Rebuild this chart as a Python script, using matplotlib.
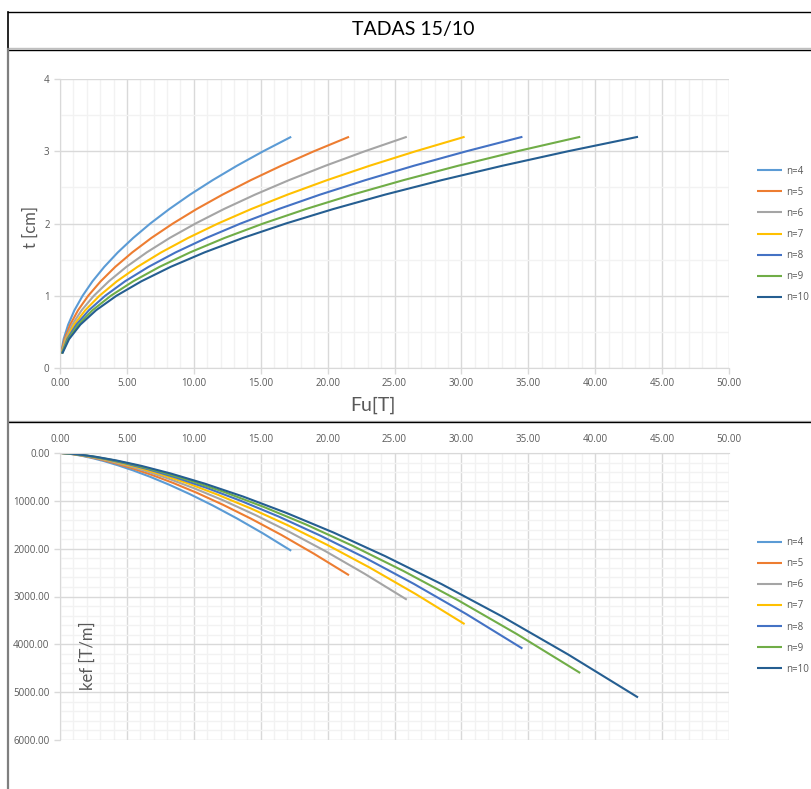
import matplotlib
matplotlib.use("Agg")
import matplotlib.pyplot as plt
from matplotlib.lines import Line2D
from matplotlib.ticker import MultipleLocator, FormatStrFormatter

# espesor de placa [cm]
t_cm = [0.2, 0.4, 0.6, 0.8, 1.0, 1.2, 1.4, 1.6, 1.8, 2.0, 2.2, 2.4, 2.6, 2.8, 3.0, 3.2]

labels = ["n=4", "n=5", "n=6", "n=7", "n=8", "n=9", "n=10"]
colors = ["#5B9BD5", "#ED7D31", "#A5A5A5", "#FFC000", "#4472C4", "#70AD47", "#255E91"]

# Fu [T] por numero de placas
fu_n4 = [0.07, 0.27, 0.61, 1.08, 1.69, 2.43, 3.31, 4.32, 5.47, 6.75, 8.17, 9.72, 11.41, 13.23, 15.19, 17.28]
fu_n5 = [0.08, 0.34, 0.76, 1.35, 2.11, 3.04, 4.13, 5.40, 6.83, 8.44, 10.21, 12.15, 14.26, 16.54, 18.98, 21.60]
fu_n6 = [0.10, 0.41, 0.91, 1.62, 2.53, 3.65, 4.96, 6.48, 8.20, 10.13, 12.25, 14.58, 17.11, 19.85, 22.78, 25.92]
fu_n7 = [0.12, 0.47, 1.06, 1.89, 2.95, 4.25, 5.79, 7.56, 9.57, 11.81, 14.29, 17.01, 19.96, 23.15, 26.58, 30.24]
fu_n8 = [0.14, 0.54, 1.22, 2.16, 3.38, 4.86, 6.62, 8.64, 10.94, 13.50, 16.34, 19.44, 22.82, 26.46, 30.38, 34.56]
fu_n9 = [0.15, 0.61, 1.37, 2.43, 3.80, 5.47, 7.44, 9.72, 12.30, 15.19, 18.38, 21.87, 25.67, 29.77, 34.17, 38.88]
fu_n10 = [0.17, 0.68, 1.52, 2.70, 4.22, 6.08, 8.27, 10.80, 13.67, 16.88, 20.42, 24.30, 28.52, 33.08, 37.97, 43.20]

# kef [T/m]
kef_n4 = [0.5, 4, 13, 32, 62, 108, 171, 256, 364, 499, 664, 862, 1096, 1369, 1684, 2044]
kef_n5 = [0.6, 5, 17, 40, 78, 135, 214, 320, 455, 624, 830, 1078, 1371, 1712, 2106, 2555]
kef_n6 = [0.8, 6, 20, 48, 94, 162, 257, 383, 545, 749, 996, 1294, 1645, 2054, 2527, 3066]
kef_n7 = [0.9, 7, 24, 56, 109, 188, 300, 447, 636, 874, 1162, 1509, 1919, 2396, 2948, 3577]
kef_n8 = [1.0, 8, 27, 64, 125, 215, 342, 511, 727, 998, 1328, 1725, 2193, 2738, 3369, 4088]
kef_n9 = [1.1, 9, 30, 72, 140, 242, 385, 575, 818, 1123, 1494, 1940, 2467, 3081, 3790, 4599]
kef_n10 = [1.2, 10, 34, 80, 156, 269, 428, 639, 909, 1248, 1660, 2156, 2741, 3423, 4211, 5110]

fu_all = [fu_n4, fu_n5, fu_n6, fu_n7, fu_n8, fu_n9, fu_n10]
kef_all = [kef_n4, kef_n5, kef_n6, kef_n7, kef_n8, kef_n9, kef_n10]

plt.rcParams["font.family"] = ["Open Sans", "DejaVu Sans"]
txt = "#595959"
major_c = "#D9D9D9"
minor_c = "#F2F2F2"
lbl_font = ["Lato", "DejaVu Sans"]

W, H = 811, 789
fig = plt.figure(figsize=(W / 100, H / 100), dpi=100)


def px_ax(l, t, r, b):
    return [l / W, 1 - b / H, (r - l) / W, (b - t) / H]


def style(ax):
    ax.set_xlim(0, 50)
    ax.xaxis.set_major_locator(MultipleLocator(5))
    ax.xaxis.set_minor_locator(MultipleLocator(1))
    ax.xaxis.set_major_formatter(FormatStrFormatter("%.2f"))
    ax.grid(which="major", color=major_c, lw=1.0, zorder=0)
    ax.grid(which="minor", color=minor_c, lw=1.0, zorder=0)
    ax.set_axisbelow(True)
    for s in ax.spines.values():
        s.set_visible(False)
    ax.tick_params(which="major", colors=major_c, labelcolor=txt, labelsize=7, length=4, width=1)
    ax.tick_params(which="minor", length=0)


leg_kw = dict(loc="center left", bbox_transform=fig.transFigure, frameon=False, fontsize=7,
              labelcolor=txt, handlelength=2.6, handletextpad=0.35, labelspacing=1.04,
              borderpad=0, borderaxespad=0)

# grafico superior: t vs Fu
ax1 = fig.add_axes(px_ax(60, 79, 729, 368))
style(ax1)
ax1.set_ylim(0, 4)
ax1.yaxis.set_major_locator(MultipleLocator(1))
ax1.yaxis.set_minor_locator(MultipleLocator(0.5))
ax1.spines["bottom"].set_visible(True)
ax1.spines["bottom"].set_color(major_c)
ax1.spines["left"].set_visible(True)
ax1.spines["left"].set_color(major_c)
for fu, c, lab in zip(fu_all, colors, labels):
    ax1.plot(fu, t_cm, color=c, lw=1.5, label=lab, solid_capstyle="butt")
ax1.legend(bbox_to_anchor=(757 / W, 1 - 234.5 / H), **leg_kw)
fig.text(373 / W, 1 - 405 / H, "Fu[T]", ha="center", va="center", fontsize=14, color=txt,
         family=lbl_font)
fig.text(31 / W, 1 - 227 / H, "t [cm]", ha="center", va="center", rotation=90, fontsize=12,
         color=txt, family=lbl_font)

# grafico inferior: kef vs Fu
ax2 = fig.add_axes(px_ax(60, 453, 729, 740))
style(ax2)
ax2.set_ylim(6000, 0)
ax2.yaxis.set_major_locator(MultipleLocator(1000))
ax2.yaxis.set_minor_locator(MultipleLocator(200))
ax2.yaxis.set_major_formatter(FormatStrFormatter("%.2f"))
ax2.xaxis.tick_top()
ax2.spines["top"].set_visible(True)
ax2.spines["top"].set_color(major_c)
ax2.spines["left"].set_visible(True)
ax2.spines["left"].set_color(major_c)
ax2.tick_params(axis="x", length=0, pad=6)
for fu, kef, c, lab in zip(fu_all, kef_all, colors, labels):
    ax2.plot(fu, kef, color=c, lw=1.5, label=lab, solid_capstyle="butt")
ax2.legend(bbox_to_anchor=(757 / W, 1 - 606 / H), **leg_kw)
fig.text(88 / W, 1 - 656 / H, "kef [T/m]", ha="center", va="center", rotation=90, fontsize=12,
         color=txt, family=lbl_font)

# titulo y marcos
fig.text(413 / W, 1 - 30 / H, "TADAS 15/10", ha="center", va="center", fontsize=14,
         color="#000000", family=lbl_font)


def hline(y, x0, x1, c, lw):
    fig.add_artist(Line2D([x0 / W, x1 / W], [1 - y / H, 1 - y / H], color=c, lw=lw))


def vline(x, y0, y1, c, lw):
    fig.add_artist(Line2D([x / W, x / W], [1 - y0 / H, 1 - y1 / H], color=c, lw=lw))


hline(12, 8, W, "#000000", 1.0)
hline(48, 8, W, "#BFBFBF", 1.0)
hline(49.5, 8, W, "#000000", 1.0)
hline(420.5, 8, W, "#BFBFBF", 1.0)
hline(422, 8, W, "#000000", 1.0)
vline(8, 12, 49, "#000000", 1.2)
vline(8, 49, H, "#7F7F7F", 1.6)

fig.savefig("out.png", dpi=100)
